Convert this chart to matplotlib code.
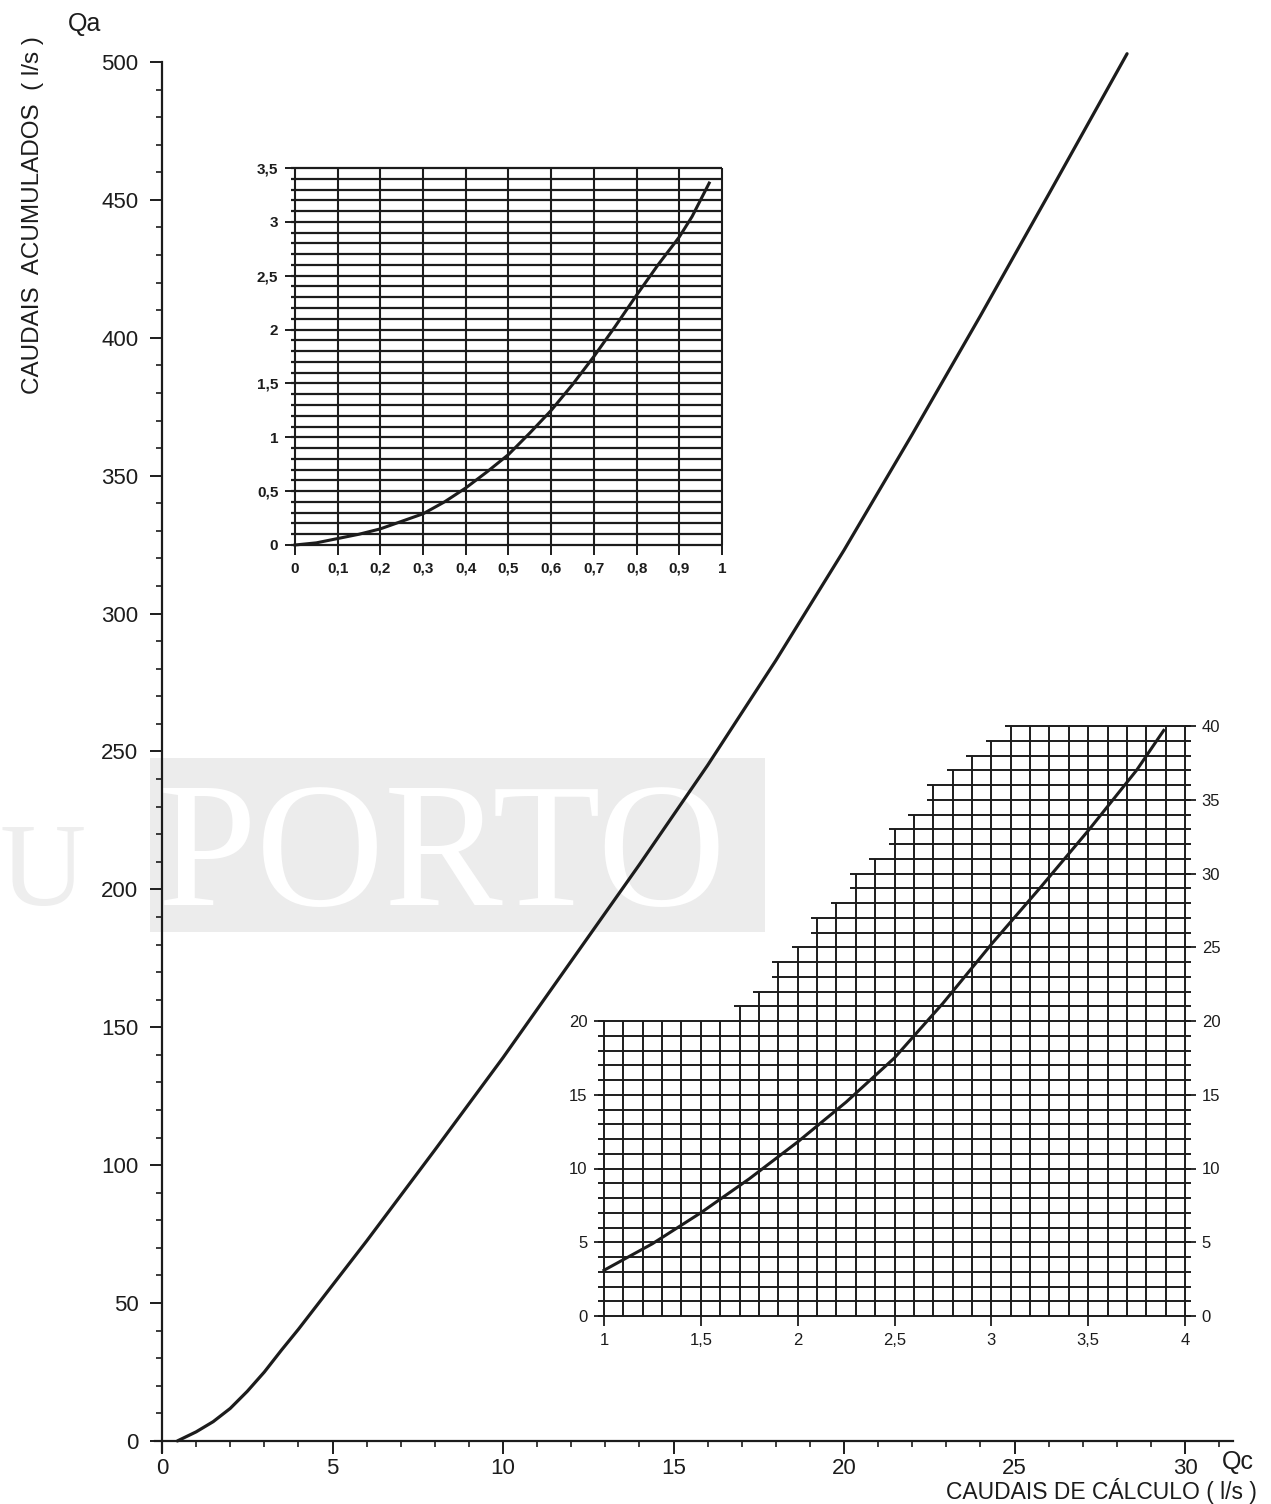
import matplotlib
matplotlib.use('Agg')
import matplotlib.pyplot as plt
import numpy as np
from matplotlib.patches import Rectangle
from matplotlib.ticker import MultipleLocator, FixedLocator

# main curve: Qa (accumulated flow) vs Qc (design flow), l/s
qc_main = [0.45, 1, 1.5, 2, 2.5, 3, 3.5, 4, 5, 6, 8, 10, 12, 14, 16, 18, 20, 22, 24, 26, 28.3]
qa_main = [0, 3.3, 7.0, 11.8, 18.0, 25, 32.9, 40.5, 56.5, 72.5, 105.5, 139, 174, 209, 245, 283, 323, 365, 408, 452, 503]

# inset 1: 0 .. 1 l/s
qc_low = [0, 0.05, 0.1, 0.15, 0.2, 0.25, 0.3, 0.35, 0.4, 0.45, 0.5, 0.55, 0.6,
          0.65, 0.7, 0.75, 0.8, 0.85, 0.9, 0.93, 0.97]
qa_low = [0, 0.02, 0.06, 0.10, 0.15, 0.22, 0.29, 0.40, 0.53, 0.68, 0.84, 1.04, 1.25,
          1.49, 1.75, 2.03, 2.32, 2.60, 2.86, 3.05, 3.36]
low_xticks = [0, 0.1, 0.2, 0.3, 0.4, 0.5, 0.6, 0.7, 0.8, 0.9, 1]
low_xlabels = ['0', '0,1', '0,2', '0,3', '0,4', '0,5', '0,6', '0,7', '0,8', '0,9', '1']
low_yticks = [0, 0.5, 1, 1.5, 2, 2.5, 3, 3.5]
low_ylabels = ['0', '0,5', '1', '1,5', '2', '2,5', '3', '3,5']

# inset 2: 1 .. 4 l/s
qc_mid = [1.0, 1.25, 1.5, 1.75, 2.0, 2.25, 2.5, 2.75, 3.0, 3.25, 3.5, 3.75, 3.89]
qa_mid = [3.1, 4.9, 7.0, 9.3, 11.8, 14.5, 17.5, 21.2, 25.2, 29.0, 32.9, 37.0, 39.7]
mid_xticks = [1, 1.5, 2, 2.5, 3, 3.5, 4]
mid_xlabels = ['1', '1,5', '2', '2,5', '3', '3,5', '4']
mid_left_ticks = [0, 5, 10, 15, 20]
mid_right_ticks = [0, 5, 10, 15, 20, 25, 30, 35, 40]
# top of the printed grid for each 0.1 column between 1 and 4
mid_col_tops = [20, 20, 20, 20, 20, 20, 20, 21, 22, 24, 25, 27, 28, 30, 31,
                33, 34, 36, 37, 38, 39, 40, 40, 40, 40, 40, 40, 40, 40, 40]

INK = '#1c1c1c'
W, H = 1271, 1504

def px_box(x0, y0, x1, y1):
    # pixel box (top-left origin) -> figure fraction rect
    return [x0 / W, 1 - y1 / H, (x1 - x0) / W, (y1 - y0) / H]

fig = plt.figure(figsize=(W / 100, H / 100), dpi=100, facecolor='white')

# faint scan watermark
fig.patches.append(Rectangle((150 / W, 1 - 932 / H), 615 / W, 174 / H,
                             transform=fig.transFigure, facecolor='#ececec',
                             edgecolor='none', zorder=-5))
fig.text(158 / W, 1 - 905 / H, 'PORTO', family='Liberation Serif', fontsize=128,
         color='white', ha='left', va='baseline', zorder=-4)
fig.text(0, 1 - 905 / H, 'U', family='Liberation Serif', fontsize=86,
         color='#eeeeee', ha='left', va='baseline', zorder=-4)

# ---- main chart ----
ax = fig.add_axes(px_box(155.2, 62, 1239.6, 1452))
ax.set_facecolor('none')
ax.set_xlim(-0.2, 31.6)
ax.set_ylim(-4, 500)
ax.spines['left'].set_position(('data', 0))
ax.spines['bottom'].set_position(('data', 0))
ax.spines['top'].set_visible(False)
ax.spines['right'].set_visible(False)
for s in ('left', 'bottom'):
    ax.spines[s].set_linewidth(1.6)
    ax.spines[s].set_color(INK)
ax.spines['left'].set_bounds(-4, 500)
ax.spines['bottom'].set_bounds(-0.2, 31.4)

ax.xaxis.set_major_locator(FixedLocator([0, 5, 10, 15, 20, 25, 30]))
ax.xaxis.set_minor_locator(FixedLocator(np.arange(0, 32, 1)))
ax.yaxis.set_major_locator(MultipleLocator(50))
ax.yaxis.set_minor_locator(MultipleLocator(10))
ax.tick_params(which='major', direction='out', length=9, width=1.4, color=INK,
               labelsize=16, labelcolor=INK, pad=8)
ax.tick_params(axis='x', which='major', pad=3)
ax.tick_params(which='minor', direction='out', length=4, width=1.2, color=INK)
for lab in ax.get_xticklabels() + ax.get_yticklabels():
    lab.set_family('Liberation Sans')

ax.plot(qc_main, qa_main, color=INK, lw=2.3, clip_on=False, zorder=5,
        solid_capstyle='round', solid_joinstyle='round')

fig.text(85 / W, 1 - 24 / H, 'Qa', family='Liberation Sans', fontsize=18,
         color=INK, ha='center', va='center')
fig.text(1238 / W, 1 - 1462 / H, 'Qc', family='Liberation Sans', fontsize=18,
         color=INK, ha='center', va='center')
fig.text(33 / W, 1 - 215 / H, 'CAUDAIS  ACUMULADOS  ( l/s )', family='Liberation Sans',
         fontsize=17.5, color=INK, rotation=90, ha='center', va='center')
fig.text(1257 / W, 1 - 1491 / H, 'CAUDAIS DE CÁLCULO ( l/s )', family='Liberation Sans',
         fontsize=16.5, color=INK, ha='right', va='center')

# ---- inset 1 ----
a1 = fig.add_axes(px_box(295, 168, 722, 545))
a1.set_facecolor('none')
a1.set_xlim(0, 1)
a1.set_ylim(0, 3.5)
for s in a1.spines.values():
    s.set_visible(False)
gx = np.arange(0, 11) / 10
gy = np.arange(0, 36) / 10
a1.vlines(gx, 0, 3.5, color=INK, lw=1.5, clip_on=False)
a1.hlines(gy, -0.01, 1.0, color=INK, lw=1.6, clip_on=False)
a1.plot(qc_low, qa_low, color=INK, lw=2.2, clip_on=False, zorder=5,
        solid_joinstyle='round')
a1.set_xticks(low_xticks)
a1.set_xticklabels(low_xlabels)
a1.set_yticks(low_yticks)
a1.set_yticklabels(low_ylabels)
a1.tick_params(direction='out', length=7, width=1.4, color=INK, labelsize=11,
               labelcolor=INK, pad=5)
for lab in a1.get_xticklabels() + a1.get_yticklabels():
    lab.set_family('Liberation Sans')
    lab.set_fontweight('bold')

# ---- inset 2 ----
a2 = fig.add_axes(px_box(604, 726, 1185, 1316))
a2.set_facecolor('none')
a2.set_xlim(1, 4)
a2.set_ylim(0, 40)
for s in a2.spines.values():
    s.set_visible(False)
tops = np.array(mid_col_tops)
col_x = 1 + np.arange(len(tops)) / 10
edges = 1 + np.arange(len(tops) + 1) / 10
# vertical lines: height = tallest neighbouring column
vt = np.maximum(np.r_[tops[:1], tops], np.r_[tops, tops[-1:]])
a2.vlines(edges, 0, vt, color=INK, lw=1.4, clip_on=False)
for k in range(0, 41):
    start = col_x[np.argmax(tops >= k)]
    a2.hlines(k, start - 0.03, 4.03, color=INK, lw=1.4, clip_on=False)
a2.plot(qc_mid, qa_mid, color=INK, lw=2.2, clip_on=False, zorder=5,
        solid_joinstyle='round')
a2.set_xticks(mid_xticks)
a2.set_xticklabels(mid_xlabels)
a2.set_yticks(mid_left_ticks)
a2.tick_params(axis='both', direction='out', length=7, width=1.3, color=INK,
               labelsize=12, labelcolor=INK, pad=5)
r2 = a2.twinx()
r2.set_ylim(0, 40)
for s in r2.spines.values():
    s.set_visible(False)
r2.set_yticks(mid_right_ticks)
r2.tick_params(direction='out', length=8, width=1.3, color=INK, labelsize=12,
               labelcolor=INK, pad=4)
for lab in a2.get_xticklabels() + a2.get_yticklabels() + r2.get_yticklabels():
    lab.set_family('Liberation Sans')

fig.savefig('out.png', dpi=100, facecolor='white')
